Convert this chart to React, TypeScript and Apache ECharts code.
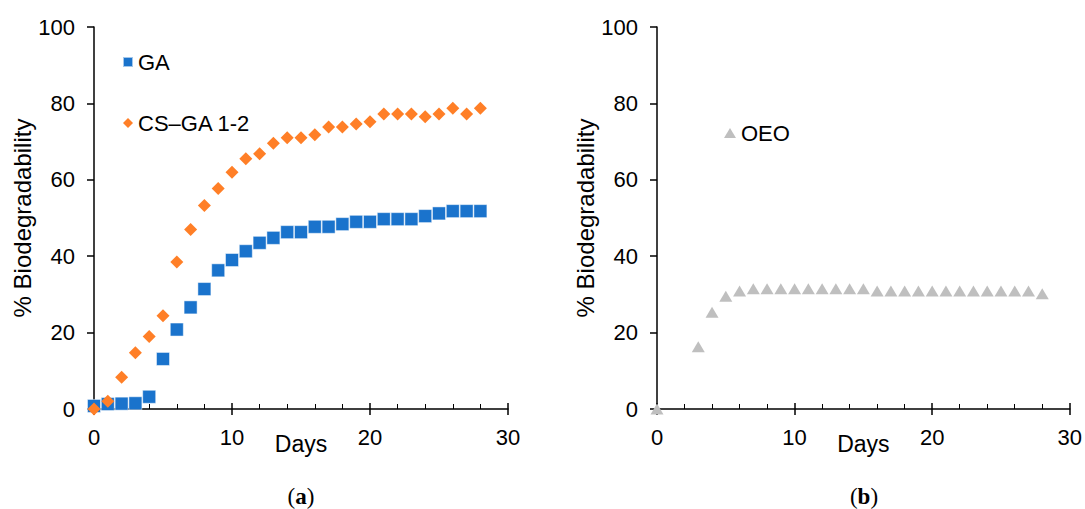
import React, { useEffect, useRef } from "react";
import * as echarts from "echarts";

// Panel (a): days 0..28
const gaDays = [0, 1, 2, 3, 4, 5, 6, 7, 8, 9, 10, 11, 12, 13, 14, 15, 16, 17, 18, 19, 20, 21, 22, 23, 24, 25, 26, 27, 28];
const gaValues = [0.8, 1.3, 1.4, 1.5, 3.2, 13.1, 20.8, 26.6, 31.4, 36.3, 39.0, 41.3, 43.5, 44.8, 46.3, 46.3, 47.7, 47.7, 48.4, 49.0, 49.0, 49.7, 49.7, 49.7, 50.5, 51.2, 51.8, 51.8, 51.8];
const csgaDays = [0, 1, 2, 3, 4, 5, 6, 7, 8, 9, 10, 11, 12, 13, 14, 15, 16, 17, 18, 19, 20, 21, 22, 23, 24, 25, 26, 27, 28];
const csgaValues = [0, 2.0, 8.3, 14.7, 19.0, 24.4, 38.5, 47.0, 53.3, 57.7, 62.0, 65.5, 66.8, 69.6, 71.0, 71.0, 71.8, 73.8, 73.8, 74.6, 75.2, 77.2, 77.2, 77.2, 76.5, 77.2, 78.7, 77.2, 78.7];

// Panel (b)
const oeoDays = [0, 3, 4, 5, 6, 7, 8, 9, 10, 11, 12, 13, 14, 15, 16, 17, 18, 19, 20, 21, 22, 23, 24, 25, 26, 27, 28];
const oeoValues = [0, 16.3, 25.3, 29.5, 30.9, 31.5, 31.5, 31.5, 31.5, 31.5, 31.5, 31.5, 31.5, 31.5, 30.9, 30.9, 30.9, 30.9, 30.9, 30.9, 30.9, 30.9, 30.9, 30.9, 30.9, 30.9, 30.2];

const xTicks = [0, 10, 20, 30];
const yTicks = [0, 20, 40, 60, 80, 100];
const seriesNames = ["GA", "CS–GA 1-2", "OEO"];
const panelLabels = ["a", "b"];

const FONT = "'Liberation Sans', Arial, sans-serif";
const SERIF = "'Liberation Serif', 'Times New Roman', serif";

export default function App() {
  const ref = useRef<HTMLDivElement>(null);
  useEffect(() => {
    const chart = echarts.init(ref.current!, null, { renderer: "svg" });
    const black = "#000";
    const mkX = (gridIndex: number) => [
      {
        type: "value",
        gridIndex,
        min: xTicks[0],
        max: xTicks[xTicks.length - 1],
        interval: xTicks[1] - xTicks[0],
        name: "Days",
        nameLocation: "middle",
        nameGap: 23,
        nameMoveOverlap: false,
        nameTextStyle: { fontSize: 23, color: black, fontFamily: FONT },
        axisLine: { onZero: false, lineStyle: { color: black, width: 1.5 } },
        axisTick: { inside: true, length: 6, lineStyle: { color: black, width: 1.5 } },
        minorTick: { show: true, splitNumber: 5, length: 5, lineStyle: { color: black, width: 1 } },
        axisLabel: { fontSize: 22, color: black, margin: 17, fontFamily: FONT },
        splitLine: { show: false },
      },
      {
        type: "value",
        gridIndex,
        position: "bottom",
        min: xTicks[0],
        max: xTicks[xTicks.length - 1],
        interval: xTicks[1] - xTicks[0],
        axisLine: { show: false, onZero: false },
        axisTick: { inside: false, length: 6, lineStyle: { color: black, width: 1.5 } },
        axisLabel: { show: false },
        splitLine: { show: false },
      },
    ];
    const mkY = (gridIndex: number) => ({
      type: "value",
      gridIndex,
      min: yTicks[0],
      max: yTicks[yTicks.length - 1],
      interval: yTicks[1] - yTicks[0],
      name: "% Biodegradability",
      nameLocation: "middle",
      nameGap: 60,
      nameMoveOverlap: false,
      nameTextStyle: { fontSize: 24, color: black, fontFamily: FONT },
      axisLine: { show: true, onZero: false, lineStyle: { color: black, width: 1.5 } },
      axisTick: { show: true, inside: false, length: 7, lineStyle: { color: black, width: 1.5 } },
      axisLabel: { fontSize: 22, color: black, margin: 19, fontFamily: FONT },
      splitLine: { show: false },
    });

    const pair = (xs: number[], ys: number[]) => xs.map((d, i) => [d, ys[i]]);

    chart.setOption({
      animation: false,
      backgroundColor: "#fff",
      textStyle: { fontFamily: FONT },
      grid: [
        { left: 94, top: 27, width: 414, height: 382 },
        { left: 657, top: 27, width: 415, height: 382 },
      ],
      xAxis: [...mkX(0), ...mkX(1)],
      yAxis: [mkY(0), mkY(1)],
      legend: [
        {
          data: [seriesNames[0], seriesNames[1]],
          orient: "vertical",
          left: 117,
          top: 46,
          itemWidth: 10,
          itemHeight: 10,
          itemGap: 39,
          selectedMode: false,
          textStyle: { fontSize: 22, color: black, fontFamily: FONT },
        },
        {
          data: [seriesNames[2]],
          orient: "vertical",
          left: 719,
          top: 117,
          itemWidth: 12,
          itemHeight: 10,
          selectedMode: false,
          textStyle: { fontSize: 22, color: black, fontFamily: FONT },
        },
      ],
      series: [
        {
          name: seriesNames[0],
          type: "scatter",
          xAxisIndex: 0,
          yAxisIndex: 0,
          symbol: "rect",
          symbolSize: 13,
          itemStyle: { color: "#1A73CC", borderColor: "rgba(255,255,255,0.6)", borderWidth: 0.8, opacity: 1 },
          data: pair(gaDays, gaValues),
        },
        {
          name: seriesNames[1],
          type: "scatter",
          xAxisIndex: 0,
          yAxisIndex: 0,
          symbol: "diamond",
          symbolSize: 13,
          itemStyle: { color: "#FF7F27", opacity: 1 },
          data: pair(csgaDays, csgaValues),
        },
        {
          name: seriesNames[2],
          type: "scatter",
          xAxisIndex: 2,
          yAxisIndex: 1,
          symbol: "triangle",
          symbolSize: [13, 11],
          itemStyle: { color: "#BFBFBF", opacity: 1 },
          data: pair(oeoDays, oeoValues),
        },
      ],
      graphic: panelLabels.map((l, i) => ({
        type: "text",
        x: i === 0 ? 301 : 864,
        y: 496,
        style: {
          text: `{p|(}{b|${l}}{p|)}`,
          align: "center",
          verticalAlign: "middle",
          rich: {
            p: { fontFamily: SERIF, fontSize: 23, fill: black, color: black },
            b: { fontFamily: SERIF, fontSize: 23, fontWeight: "bold", fill: black, color: black },
          },
        },
      })),
    });
    return () => chart.dispose();
  }, []);
  return (
    <div
      ref={ref}
      style={{ position: "fixed", left: 0, top: 0, width: 1085, height: 509, background: "#fff" }}
    />
  );
}
